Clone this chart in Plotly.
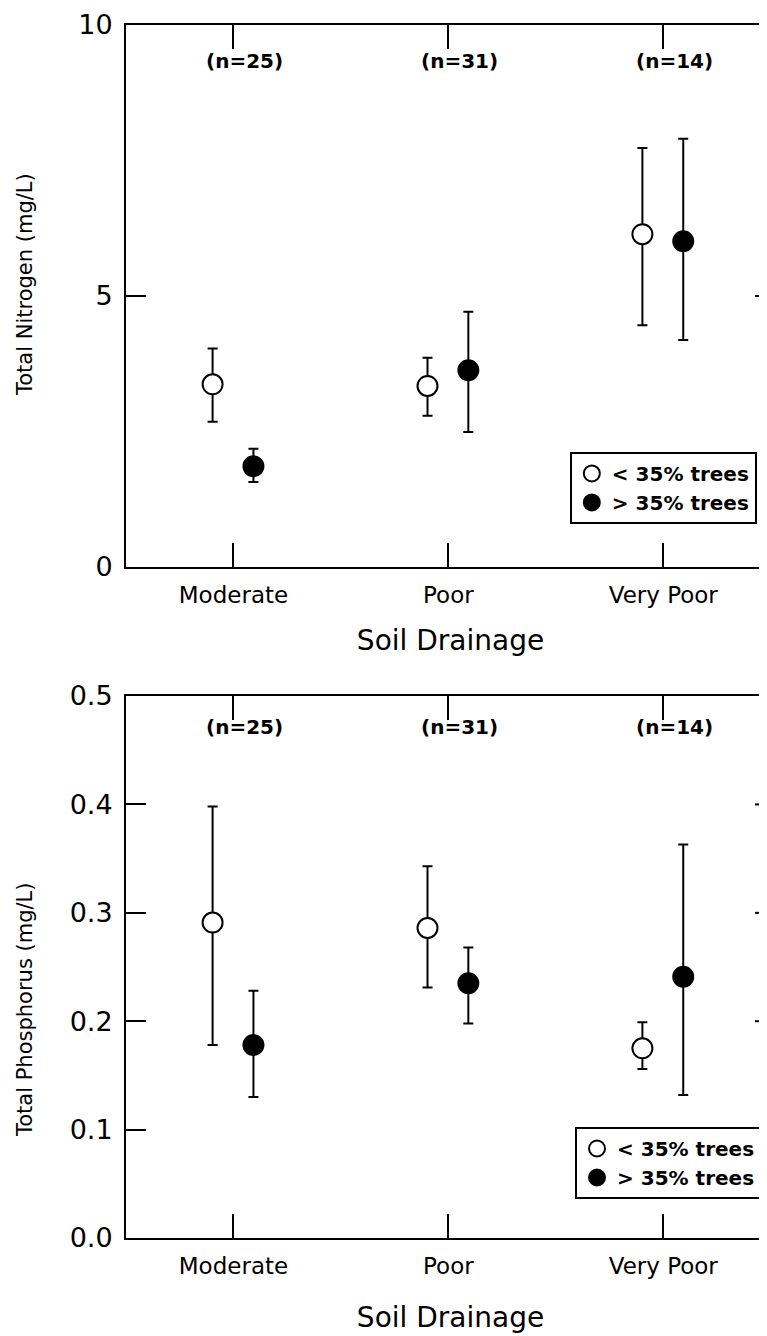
import plotly.graph_objects as go

categories = ["Moderate", "Poor", "Very Poor"]
n_labels = ["(n=25)", "(n=31)", "(n=14)"]
series_names = ["< 35% trees", "> 35% trees"]

# Total Nitrogen (mg/L)
tn_low_mean = [3.37, 3.34, 6.14]
tn_low_upper = [4.03, 3.86, 7.73]
tn_low_lower = [2.68, 2.79, 4.46]
tn_high_mean = [1.86, 3.63, 6.01]
tn_high_upper = [2.18, 4.71, 7.90]
tn_high_lower = [1.57, 2.49, 4.19]

# Total Phosphorus (mg/L)
tp_low_mean = [0.291, 0.286, 0.175]
tp_low_upper = [0.398, 0.343, 0.199]
tp_low_lower = [0.178, 0.231, 0.156]
tp_high_mean = [0.178, 0.235, 0.241]
tp_high_upper = [0.228, 0.268, 0.363]
tp_high_lower = [0.130, 0.198, 0.132]

tn_ticks = [0, 5, 10]
tp_ticks = [0.0, 0.1, 0.2, 0.3, 0.4, 0.5]

FONT = "DejaVu Sans"
OFF_LOW, OFF_HIGH = -0.097, 0.093
xpos = list(range(len(categories)))

fig = go.Figure()


def add_series(mean, upper, lower, offset, filled, name, xa, ya, legend):
    fig.add_trace(go.Scatter(
        x=[i + offset for i in xpos], y=mean, mode="markers", name=name,
        xaxis=xa, yaxis=ya, legend=legend,
        marker=dict(symbol="circle", size=20,
                    color="black" if filled else "white",
                    line=dict(color="black", width=2)),
        error_y=dict(type="data", symmetric=False,
                     array=[u - m for u, m in zip(upper, mean)],
                     arrayminus=[m - l for m, l in zip(mean, lower)],
                     color="black", thickness=2, width=5),
    ))


add_series(tn_low_mean, tn_low_upper, tn_low_lower, OFF_LOW, False, series_names[0], "x", "y", "legend")
add_series(tn_high_mean, tn_high_upper, tn_high_lower, OFF_HIGH, True, series_names[1], "x", "y", "legend")
add_series(tp_low_mean, tp_low_upper, tp_low_lower, OFF_LOW, False, series_names[0], "x2", "y2", "legend2")
add_series(tp_high_mean, tp_high_upper, tp_high_lower, OFF_HIGH, True, series_names[1], "x2", "y2", "legend2")

xcommon = dict(range=[-0.5, 2.52], tickmode="array", tickvals=xpos, ticktext=categories,
               ticks="inside", ticklen=24, tickwidth=2, tickcolor="black",
               showline=True, linewidth=2, linecolor="black", mirror="ticks",
               showgrid=False, zeroline=False, automargin=False,
               tickfont=dict(family=FONT, size=23, color="black"),
               ticklabelstandoff=6)
ycommon = dict(ticks="inside", ticklen=20, tickwidth=2, tickcolor="black",
               showline=True, linewidth=2, linecolor="black", mirror=False,
               showgrid=False, zeroline=False, automargin=False,
               tickfont=dict(family=FONT, size=27, color="black"),
               ticklabelstandoff=6)

fig.update_layout(
    width=767, height=1336,
    margin=dict(l=118, r=0, t=17, b=106),
    paper_bgcolor="white", plot_bgcolor="white",
    font=dict(family=FONT, color="black"),
    xaxis=dict(domain=[0, 1], anchor="y",
               title=dict(text="Soil Drainage", font=dict(family=FONT, size=28, color="black"), standoff=24),
               **xcommon),
    xaxis2=dict(domain=[0, 1], anchor="y2",
                title=dict(text="Soil Drainage", font=dict(family=FONT, size=28, color="black"), standoff=30),
                **xcommon),
    yaxis=dict(domain=[0.5532, 1], anchor="x", range=[0, 10], tickvals=tn_ticks,
               ticktext=[str(v) for v in tn_ticks], **ycommon),
    yaxis2=dict(domain=[0, 0.4468], anchor="x2", range=[0, 0.5], tickvals=tp_ticks,
                tickformat=".1f", **ycommon),
    legend=dict(x=0.972, y=0.648, xanchor="right", yanchor="top",
                bgcolor="white", bordercolor="black", borderwidth=2,
                font=dict(family=FONT, size=20, color="black", weight="bold"),
                itemwidth=30, tracegroupgap=0),
    legend2=dict(x=0.980, y=0.0915, xanchor="right", yanchor="top",
                 bgcolor="white", bordercolor="black", borderwidth=2,
                 font=dict(family=FONT, size=20, color="black", weight="bold"),
                 itemwidth=30, tracegroupgap=0),
    showlegend=True,
)

# y-axis titles (placed to match the reference positions)
PLOT_W = 767 - 118
fig.add_annotation(text="Total Nitrogen (mg/L)", textangle=-90, showarrow=False,
                   xref="paper", yref="y domain", x=(25 - 126) / PLOT_W, y=(567 - 285) / 542,
                   xanchor="center", yanchor="middle",
                   font=dict(family=FONT, size=21, color="black"))
fig.add_annotation(text="Total Phosphorus (mg/L)", textangle=-90, showarrow=False,
                   xref="paper", yref="y2 domain", x=(25 - 126) / PLOT_W, y=(1238 - 1010) / 542,
                   xanchor="center", yanchor="middle",
                   font=dict(family=FONT, size=21, color="black"))

# n labels
for i, lab in enumerate(n_labels):
    fig.add_annotation(x=xpos[i], y=1 - 36 / 542, xref="x", yref="y domain", text=lab, showarrow=False,
                       yanchor="middle", xshift=11,
                       font=dict(family=FONT, size=20, color="black", weight="bold"))
    fig.add_annotation(x=xpos[i], y=1 - 31 / 542, xref="x2", yref="y2 domain", text=lab, showarrow=False,
                       yanchor="middle", xshift=11,
                       font=dict(family=FONT, size=20, color="black", weight="bold"))

# right-side inward ticks (the right axis line lies outside the reference crop)
TICK_FRAC = 20 / PLOT_W
for v in tn_ticks[1:-1]:
    fig.add_shape(type="line", xref="x domain", yref="y", x0=1 - TICK_FRAC, x1=1, y0=v, y1=v,
                  line=dict(color="black", width=2), layer="below")
for v in tp_ticks[1:-1]:
    fig.add_shape(type="line", xref="x2 domain", yref="y2", x0=1 - TICK_FRAC, x1=1, y0=v, y1=v,
                  line=dict(color="black", width=2), layer="below")

fig.write_html("out.html")
